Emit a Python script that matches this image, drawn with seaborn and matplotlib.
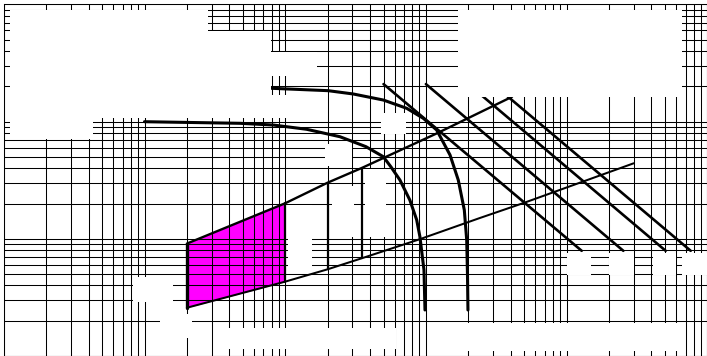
import numpy as np
import matplotlib
matplotlib.use("Agg")
import matplotlib.pyplot as plt
from matplotlib.patches import Rectangle
from matplotlib.ticker import LogLocator, NullFormatter
import seaborn as sns

# values (x: 1..1e5, y: 1..1000)
curve1_x = [80, 202, 305, 498, 730, 958, 1193, 1484, 1699, 1875, 1950, 1975, 1990]
curve1_y = [192.4, 183.6, 172, 152.8, 129.9, 106.7, 84.8, 51.9, 31.7, 17.6, 9.77, 4.91, 2.47]

curve2_x = [10, 47.7, 82.3, 142, 245, 375, 498, 565, 654, 769, 860, 907, 969, 985]
curve2_y = [99.8, 96.7, 93.5, 86, 74.3, 61.1, 50.2, 41.0, 31.7, 21.4, 14.5, 10.4, 5.42, 2.47]

# band (first four x values are shared by both edges)
band_up_x = [20, 100, 200, 350, 1200, 4100]
band_up_y = [9.1, 20.1, 30.1, 40.2, 79.5, 163]
band_low_x = [20, 100, 200, 350, 900, 2400, 5000, 30000]
band_low_y = [2.58, 4.31, 5.49, 6.82, 9.9, 15.0, 20.3, 44.1]

# four parallel lines
diag_start_x = [500, 1000, 2000, 3000]
diag_end_x = [12800, 25300, 50600, 76200]
diag_y = [209, 7.9]

# white label boxes (pixel rectangles: x0, y0, x1, y1)
boxes = [
    (10, 10.5, 208, 118.5), (10, 118, 92.7, 139), (208, 31, 271, 118.5),
    (271, 52, 317, 76), (271, 95, 300, 118.5), (381, 113, 406.5, 133.5),
    (325, 144, 352, 166), (288, 204.5, 311.5, 270), (332, 186, 353.5, 236.5),
    (365, 169, 386, 237), (133, 277, 173, 302), (160, 314, 192, 338),
    (214, 328, 396, 349), (430, 323, 678, 351),
    (566.7, 252.7, 591, 275.3), (609.3, 252.7, 634.3, 275.3),
    (653.3, 252.7, 676, 275.3), (681.7, 252.7, 706.7, 275.3),
    (457.7, 10.5, 681.7, 96.7),
]

sns.set_style("white")
W, H = 707, 356
fig = plt.figure(figsize=(W / 100, H / 100), dpi=100)
ax = fig.add_axes([3.8 / W, 0, 703.5 / W, 351.6 / H])
ax.set_xscale("log")
ax.set_yscale("log")
ax.set_xlim(1, 1e5)
ax.set_ylim(1, 1000)

for axis in (ax.xaxis, ax.yaxis):
    axis.set_major_locator(LogLocator(base=10, numticks=20))
    axis.set_minor_locator(LogLocator(base=10, subs=np.arange(2, 10), numticks=100))
    axis.set_minor_formatter(NullFormatter())
ax.set_axisbelow(True)
ax.grid(True, which="both", color="black", lw=0.75)
ax.tick_params(which="both", length=0, labelbottom=False, labelleft=False)
for s in ax.spines.values():
    s.set_color("black")
    s.set_linewidth(0.75)

# magenta region
ax.fill_between(band_up_x[:2], band_low_y[:2], band_up_y[:2], color="#ff00ff", lw=0, zorder=0.3)

kw = dict(sort=False, estimator=None, color="black", ax=ax, legend=False)
sns.lineplot(x=curve1_x, y=curve1_y, lw=2.2, **kw)
sns.lineplot(x=curve2_x, y=curve2_y, lw=2.2, **kw)
sns.lineplot(x=band_up_x, y=band_up_y, lw=1.7, **kw)
sns.lineplot(x=band_low_x, y=band_low_y, lw=1.45, **kw)
for i in range(4):
    sns.lineplot(x=[band_up_x[i]] * 2, y=[band_low_y[i], band_up_y[i]],
                 lw=2.4 if i == 0 else 1.6, **kw)
for x0, x1 in zip(diag_start_x, diag_end_x):
    sns.lineplot(x=[x0, x1], y=diag_y, lw=1.9, **kw)

for x0, y0, x1, y1 in boxes:
    fig.add_artist(Rectangle((x0 / W, 1 - y1 / H), (x1 - x0) / W, (y1 - y0) / H,
                             transform=fig.transFigure, facecolor="white",
                             edgecolor="none", zorder=5))

fig.savefig("out.png", dpi=100)
